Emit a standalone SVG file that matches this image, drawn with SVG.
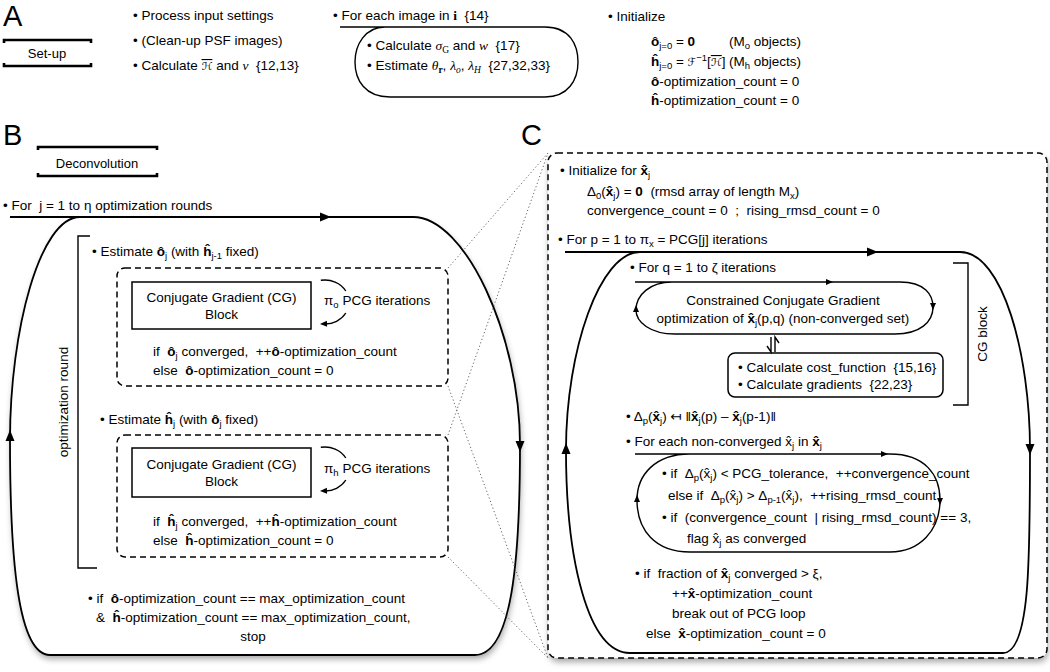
<svg xmlns="http://www.w3.org/2000/svg" width="1050" height="672" viewBox="0 0 1050 672">
<style>
.t{font-family:"Liberation Sans",Arial,"DejaVu Sans",sans-serif;font-size:13.5px;fill:#000}
.c{text-anchor:middle}
.b{font-weight:bold}
.m{font-family:"Liberation Serif","DejaVu Serif",serif;font-style:italic}
.cal{font-family:"DejaVu Sans","Liberation Serif",serif;font-style:italic;font-size:11px}
.bs{font-family:"Liberation Serif","DejaVu Serif",serif;font-weight:bold}
.s{font-size:9.5px}
.big{font-family:"Liberation Sans",Arial,sans-serif;font-size:29px;fill:#000}
.ln{fill:none;stroke:#000;stroke-width:1.4}
.loop{fill:none;stroke:#000;stroke-width:1.8}
.brk{fill:none;stroke:#000;stroke-width:2.6}
.dash{fill:none;stroke:#000;stroke-width:1.5;stroke-dasharray:6 4}
.dot{fill:none;stroke:#666;stroke-width:1;stroke-dasharray:1.2 2.4}
.box{fill:#fff;stroke:#000;stroke-width:1.5}
</style>
<defs>
<filter id="sh" x="-10%" y="-10%" width="120%" height="120%">
<feDropShadow dx="1" dy="4" stdDeviation="3" flood-color="#000" flood-opacity="0.35"/>
</filter>
<path id="ah" d="M0,0 L-11,-4.5 L-11,4.5 Z" fill="#000"/>
<path id="ahs" d="M0,0 L-7,-3 L-7,3 Z" fill="#000"/>
</defs>
<rect width="1050" height="672" fill="#fff"/>

<!-- shadows -->
<path d="M80,217 L413,217 C465,217 520,335 520,445 C520,560 512,655 475,655 L50,655 C18,655 10,560 10,440 C10,330 40,217 80,217 Z" fill="#fff" filter="url(#sh)"/>
<rect x="548" y="153" width="499" height="505" rx="9" fill="#fff" filter="url(#sh)"/>

<!-- Panel A -->
<g id="label-A"><text class="big" x="3" y="26">A</text></g>
<g id="setup">
<path class="brk" d="M4,43 L4,40 L91,40 L91,43 M4,63 L4,66 L91,66 L91,63"/>
<text class="t c" x="47" y="58" style="font-size:13px">Set-up</text>
</g>
<g id="setup-list">
<text class="t" x="133" y="20">• Process input settings</text>
<text class="t" x="133" y="45">• (Clean-up PSF images)</text>
<text class="t" x="133" y="70">• Calculate <tspan class="cal" text-decoration="overline">ℋ</tspan> and <tspan class="m">ν</tspan>&#160; {12,13}</text>
</g>
<g id="per-image">
<text class="t" x="333" y="20">• For each image in <tspan class="bs">i</tspan>&#160; {14}</text>
<path class="ln" d="M340,27 L545,27 C570,27 578,45 578,62 C578,80 568,97 545,97 L390,97 C365,97 355,80 355,62 C355,45 365,27 385,27"/>
<text class="t" x="367" y="50">• Calculate <tspan class="m">σ</tspan><tspan class="s" dy="3" style="font-family:'Liberation Serif',serif">G</tspan><tspan dy="-3"> and </tspan><tspan class="m">w</tspan>&#160; {17}</text>
<text class="t" x="367" y="70">• Estimate <tspan class="m">θ</tspan><tspan class="s bs" dy="3">r</tspan><tspan dy="-3">, </tspan><tspan class="m">λ</tspan><tspan class="s m" dy="3">o</tspan><tspan dy="-3">, </tspan><tspan class="m">λ</tspan><tspan class="s m" dy="3">H</tspan><tspan dy="-3">&#160; {27,32,33}</tspan></text>
</g>
<g id="initialize">
<text class="t" x="608" y="21">• Initialize</text>
<text class="t" x="651" y="46"><tspan class="b">ô</tspan><tspan class="s" dy="3">j=0</tspan><tspan dy="-3"> = </tspan><tspan class="b">0</tspan></text>
<text class="t" x="729" y="46">(M<tspan class="s" dy="3">o</tspan><tspan dy="-3"> objects)</tspan></text>
<text class="t" x="651" y="66"><tspan class="b">ĥ</tspan><tspan class="s" dy="3">j=0</tspan><tspan dy="-3"> = </tspan><tspan class="cal">ℱ</tspan><tspan class="s" dy="-5">−1</tspan><tspan dy="5">[</tspan><tspan class="cal" text-decoration="overline">ℋ</tspan>]</text>
<text class="t" x="729" y="66">(M<tspan class="s" dy="3">h</tspan><tspan dy="-3"> objects)</tspan></text>
<text class="t" x="651" y="86"><tspan class="b">ô</tspan>-optimization_count = 0</text>
<text class="t" x="651" y="105"><tspan class="b">ĥ</tspan>-optimization_count = 0</text>
</g>

<!-- Panel B -->
<g id="label-B"><text class="big" x="3" y="145">B</text></g>
<g id="deconvolution">
<path class="brk" d="M38,150 L38,147 L157,147 L157,150 M38,173 L38,176 L157,176 L157,173"/>
<text class="t c" x="97" y="168" style="font-size:13px">Deconvolution</text>
</g>
<g id="j-loop-label">
<text class="t" x="3" y="210">• For&#160; j = 1 to η optimization rounds</text>
</g>
<g id="optimization-round">
<path class="ln" d="M90,236 L78,236 L78,568 L97,568"/>
<text class="t c" transform="rotate(-90 68 402)" x="68" y="402">optimization round</text>
</g>
<g id="estimate-o">
<text class="t" x="92" y="256">• Estimate <tspan class="b">ô</tspan><tspan class="s" dy="3">j</tspan><tspan dy="-3"> (with </tspan><tspan class="b">ĥ</tspan><tspan class="s" dy="3">j-1</tspan><tspan dy="-3"> fixed)</tspan></text>
<rect class="dash" x="117" y="268" width="331" height="118" rx="8"/>
<rect class="box" x="132" y="282" width="179" height="47"/>
<text class="t c" x="221.5" y="302">Conjugate Gradient (CG)</text>
<text class="t c" x="221.5" y="319">Block</text>
<path class="ln" d="M320.8,280.3 A24 22 0 0 1 345.8,291 M345.8,313 A24 22 0 0 1 324,324"/>
<use href="#ahs" transform="translate(320,324) rotate(178)"/>
<text class="t" x="324" y="305">π<tspan class="s" dy="3">o</tspan><tspan dy="-3"> PCG iterations</tspan></text>
<text class="t" x="153" y="356">if&#160; <tspan class="b">ô</tspan><tspan class="s" dy="3">j</tspan><tspan dy="-3"> converged,&#160; ++</tspan><tspan class="b">ô</tspan>-optimization_count</text>
<text class="t" x="153" y="375">else&#160; <tspan class="b">ô</tspan>-optimization_count = 0</text>
</g>
<g id="estimate-h">
<text class="t" x="100" y="424">• Estimate <tspan class="b">ĥ</tspan><tspan class="s" dy="3">j</tspan><tspan dy="-3"> (with </tspan><tspan class="b">ô</tspan><tspan class="s" dy="3">j</tspan><tspan dy="-3"> fixed)</tspan></text>
<rect class="dash" x="117" y="435" width="331" height="122" rx="8"/>
<rect class="box" x="132" y="448" width="179" height="49"/>
<text class="t c" x="221.5" y="469">Conjugate Gradient (CG)</text>
<text class="t c" x="221.5" y="486">Block</text>
<path class="ln" d="M320.8,447.3 A24 22 0 0 1 345.8,458 M345.8,480 A24 22 0 0 1 324,491"/>
<use href="#ahs" transform="translate(320,491) rotate(178)"/>
<text class="t" x="324" y="473">π<tspan class="s" dy="3">h</tspan><tspan dy="-3"> PCG iterations</tspan></text>
<text class="t" x="153" y="526">if&#160; <tspan class="b">ĥ</tspan><tspan class="s" dy="3">j</tspan><tspan dy="-3"> converged,&#160; ++</tspan><tspan class="b">ĥ</tspan>-optimization_count</text>
<text class="t" x="153" y="545">else&#160; <tspan class="b">ĥ</tspan>-optimization_count = 0</text>
</g>
<g id="stop-test">
<text class="t" x="88" y="603">• if&#160; <tspan class="b">ô</tspan>-optimization_count == max_optimization_count</text>
<text class="t" x="96" y="622">&amp;&#160; <tspan class="b">ĥ</tspan>-optimization_count == max_optimization_count,</text>
<text class="t c" x="253" y="641">stop</text>
</g>

<!-- Panel C -->
<g id="label-C"><text class="big" x="521" y="145">C</text></g>
<g id="panel-C-frame">
<rect class="dash" x="548" y="153" width="499" height="505" rx="9"/>
</g>
<g id="init-x">
<text class="t" x="560" y="175">• Initialize for <tspan class="b">x̂</tspan><tspan class="s" dy="3">j</tspan></text>
<text class="t" x="587" y="196">Δ<tspan class="s" dy="3">0</tspan><tspan dy="-3">(</tspan><tspan class="b">x̂</tspan><tspan class="s" dy="3">j</tspan><tspan dy="-3">) = </tspan><tspan class="b">0</tspan>&#160; (rmsd array of length M<tspan class="s" dy="3">x</tspan><tspan dy="-3">)</tspan></text>
<text class="t" x="587" y="215">convergence_count = 0&#160; ;&#160; rising_rmsd_count = 0</text>
</g>
<g id="p-loop-label">
<text class="t" x="558" y="244">• For p = 1 to π<tspan class="s" dy="3">x</tspan><tspan dy="-3"> = PCG[j] iterations</tspan></text>
</g>
<g id="q-loop">
<text class="t" x="630" y="272">• For q = 1 to ζ iterations</text>
<text class="t c" x="783" y="305">Constrained Conjugate Gradient</text>
<text class="t c" x="783" y="323">optimization of <tspan class="b">x̂</tspan><tspan class="s" dy="3">j</tspan><tspan dy="-3">(p,q) (non-converged set)</tspan></text>
</g>
<g id="cost-box">
<rect class="box" x="728" y="353" width="215" height="44" rx="7"/>
<text class="t" x="738" y="372">• Calculate cost_function&#160; {15,16}</text>
<text class="t" x="738" y="389">• Calculate gradients&#160; {22,23}</text>
</g>
<g id="cg-block">
<path class="ln" d="M953,263 L968,263 L968,405 L953,405"/>
<text class="t c" transform="rotate(-90 987 334)" x="987" y="334">CG block</text>
</g>
<g id="rmsd-update">
<text class="t" x="626" y="421">• Δ<tspan class="s" dy="3">p</tspan><tspan dy="-3">(</tspan><tspan class="b">x̂</tspan><tspan class="s" dy="3">j</tspan><tspan dy="-3">) ↤ ‖</tspan><tspan class="b">x̂</tspan><tspan class="s" dy="3">j</tspan><tspan dy="-3">(p) – </tspan><tspan class="b">x̂</tspan><tspan class="s" dy="3">j</tspan><tspan dy="-3">(p-1)‖</tspan></text>
</g>
<g id="each-loop">
<text class="t" x="626" y="446">• For each non-converged x̂<tspan class="s" dy="3">j</tspan><tspan dy="-3"> in </tspan><tspan class="b">x̂</tspan><tspan class="s" dy="3">j</tspan></text>
<text class="t" x="662" y="478">• if&#160; Δ<tspan class="s" dy="3">p</tspan><tspan dy="-3">(x̂</tspan><tspan class="s" dy="3">j</tspan><tspan dy="-3">) &lt; PCG_tolerance,&#160; ++convergence_count</tspan></text>
<text class="t" x="668" y="500">else if&#160; Δ<tspan class="s" dy="3">p</tspan><tspan dy="-3">(x̂</tspan><tspan class="s" dy="3">j</tspan><tspan dy="-3">) &gt; Δ</tspan><tspan class="s" dy="3">p-1</tspan><tspan dy="-3">(x̂</tspan><tspan class="s" dy="3">j</tspan><tspan dy="-3">),&#160; ++rising_rmsd_count</tspan></text>
<text class="t" x="662" y="522">• if&#160; (convergence_count&#160; | rising_rmsd_count) == 3,</text>
<text class="t" x="687" y="543">flag x̂<tspan class="s" dy="3">j</tspan><tspan dy="-3"> as converged</tspan></text>
</g>
<g id="fraction-test">
<text class="t" x="635" y="578">• if&#160; fraction of <tspan class="b">x̂</tspan><tspan class="s" dy="3">j</tspan><tspan dy="-3"> converged &gt; ξ,</tspan></text>
<text class="t" x="672" y="598">++<tspan class="b">x̂</tspan>-optimization_count</text>
<text class="t" x="672" y="618">break out of PCG loop</text>
<text class="t" x="646" y="638">else&#160; <tspan class="b">x̂</tspan>-optimization_count = 0</text>
</g>

<!-- connectors -->
<g id="connectors">
<path class="loop" d="M10,217 L413,217 C465,217 520,335 520,445 C520,560 512,655 475,655 L50,655 C18,655 10,560 10,440 C10,330 40,217 80,217"/>
<use href="#ah" transform="translate(331,217)"/>
<use href="#ah" transform="translate(520,452) rotate(90)"/>
<use href="#ah" transform="translate(10,430) rotate(-90)"/>
<path class="loop" d="M565,252 L960,252 C1003,252 1030,355 1030,450 C1030,560 1030,653 1003,653 L630,653 C588,653 566,560 566,450 C566,350 600,252 640,252"/>
<use href="#ah" transform="translate(878,252)"/>
<use href="#ah" transform="translate(1030,455) rotate(90)"/>
<use href="#ah" transform="translate(566,443) rotate(-90)"/>
<path class="ln" d="M635,282 L900,282 C925,282 933,295 933,307 C933,322 920,334 895,334 L675,334 C650,334 636,322 636,310 C636,295 650,282 672,282"/>
<use href="#ahs" transform="translate(833,282)"/>
<use href="#ahs" transform="translate(933,310) rotate(90)"/>
<use href="#ahs" transform="translate(636,305) rotate(-90)"/>
<path class="ln" d="M771,337 L771,352 L767,346 M775,352 L775,337 L779,343"/>
<path class="ln" d="M635,454 L890,454 C925,454 940,475 940,500 C940,530 920,552 890,552 L690,552 C655,552 637,530 637,500 C637,475 655,454 690,454"/>
<use href="#ahs" transform="translate(888,454)"/>
<use href="#ahs" transform="translate(940,505) rotate(90)"/>
<use href="#ahs" transform="translate(637,495) rotate(-90)"/>
<path class="dot" d="M448,268 L548,153 M448,435 L548,153 M448,386 L548,658 M448,557 L548,658"/>
</g>
</svg>
